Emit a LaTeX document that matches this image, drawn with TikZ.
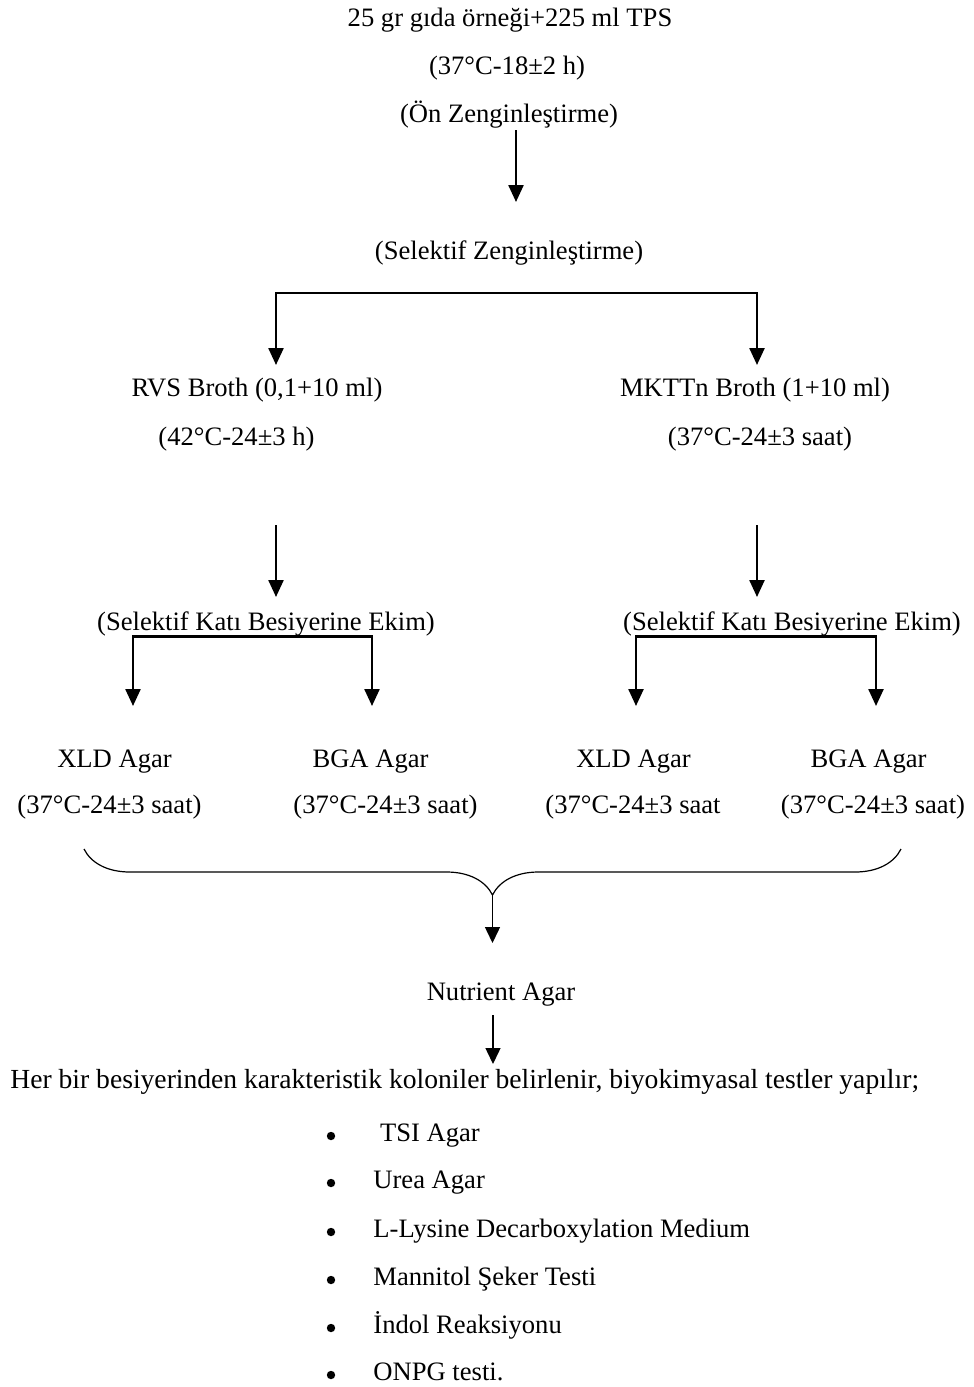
\documentclass[tikz,border=0pt]{standalone}
\usepackage{fontspec}
\setmainfont{Liberation Serif}
\usetikzlibrary{arrows.meta,decorations.pathreplacing}
\tikzset{
    txt/.style={
        anchor=base,
        inner sep=0pt,
        text height=9.5pt,
        text depth=3pt,
        font=\fontsize{13.3}{16}\selectfont
    },
    bullet/.style={
        circle,
        fill,
        inner sep=0pt,
        minimum size=4.2pt
    },
    flow/.style={
        line width=1.2pt,
        -{Triangle[width=7.5pt,length=8.5pt]}
    },
    fork/.style={
        line width=1.2pt,
        {Triangle[width=7.5pt,length=8.5pt]}-{Triangle[width=7.5pt,length=8.5pt]}
    },
    thinflow/.style={
        line width=0.7pt,
        -{Triangle[width=7.5pt,length=8pt]}
    },
    curly/.style={
        line width=0.6pt,
        decorate,
        decoration={brace,mirror,amplitude=23pt}
    }
}

\begin{document}
\begin{tikzpicture}[x=0.5pt,y=-0.5pt]
\useasboundingbox (0,0) rectangle (974,1387);
% pre-enrichment
\node[txt] (tps) at (510,26) {25 gr gıda örneği+225 ml TPS};
\node[txt] (pret) at (507,74) {(37°C-18±2 h)};
\node[txt] (pre) at (509,122) {(Ön Zenginleştirme)};
\node[txt] (sel) at (509,259) {(Selektif Zenginleştirme)};
% broths
\node[txt] (rvs) at (257,396) {RVS Broth (0,1+10 ml)};
\node[txt] (rvst) at (236.5,445) {(42°C-24±3 h)};
\node[txt] (mkttn) at (755,396) {MKTTn Broth (1+10 ml)};
\node[txt] (mkttnt) at (760,445) {(37°C-24±3 saat)};
% plating
\node[txt] (katiL) at (266,630) {(Selektif Katı Besiyerine Ekim)};
\node[txt] (katiR) at (792,630) {(Selektif Katı Besiyerine Ekim)};
\node[txt] (xldL) at (114.5,767) {XLD Agar};
\node[txt] (bgaL) at (370.5,767) {BGA Agar};
\node[txt] (xldR) at (633.5,767) {XLD Agar};
\node[txt] (bgaR) at (868.5,767) {BGA Agar};
\node[txt] (xldLt) at (109.5,813) {(37°C-24±3 saat)};
\node[txt] (bgaLt) at (385.5,813) {(37°C-24±3 saat)};
\node[txt] (xldRt) at (633,813) {(37°C-24±3 saat};
\node[txt] (bgaRt) at (873,813) {(37°C-24±3 saat)};
% confirmation
\node[txt] (nut) at (501,1000) {Nutrient Agar};
\node[txt,anchor=base west,font=\fontsize{13.8}{16}\selectfont] (koloni) at (10,1088) {Her bir besiyerinden karakteristik koloniler belirlenir, biyokimyasal testler yapılır;};
\node[bullet] (b1) at (331,1136) {};
\node[bullet] (b2) at (331,1183) {};
\node[bullet] (b3) at (331,1232) {};
\node[bullet] (b4) at (331,1280) {};
\node[bullet] (b5) at (331,1328) {};
\node[bullet] (b6) at (331,1375) {};
\node[txt,anchor=base west] (tsi) at (373,1141) {\ TSI Agar};
\node[txt,anchor=base west] (urea) at (373,1188) {Urea Agar};
\node[txt,anchor=base west] (lys) at (373,1237) {L-Lysine Decarboxylation Medium};
\node[txt,anchor=base west] (man) at (373,1285) {Mannitol Şeker Testi};
\node[txt,anchor=base west] (ind) at (373,1333) {İndol Reaksiyonu};
\node[txt,anchor=base west] (onpg) at (373,1380) {ONPG testi.};
% arrow ends
\coordinate (selIn) at (516,202);
\coordinate (forkL) at (276,293);
\coordinate (forkR) at (757,293);
\coordinate (rvsIn) at (276,365);
\coordinate (mkttnIn) at (757,365);
\coordinate (rvsOut) at (276,525);
\coordinate (mkttnOut) at (757,525);
\coordinate (katiLIn) at (276,597);
\coordinate (katiRIn) at (757,597);
\coordinate (xldLIn) at (133,706);
\coordinate (bgaLIn) at (372,706);
\coordinate (xldRIn) at (636,706);
\coordinate (bgaRIn) at (876,706);
\coordinate (braceA) at (84,849);
\coordinate (braceB) at (901,849);
\coordinate (braceTip) at (492.5,895);
\coordinate (nutIn) at (492.5,943);
\coordinate (nutOut) at (493,1015);
\coordinate (koloniIn) at (493,1064);
\draw[flow] ([yshift=-1pt]pre.south -| selIn) -- (selIn);
\draw[fork] (rvsIn) -- (forkL) -- (forkR) -- (mkttnIn);
\draw[flow] (rvsOut) -- (katiLIn);
\draw[flow] (mkttnOut) -- (katiRIn);
\draw[fork] (xldLIn) |- (katiL.south) -| (bgaLIn);
\draw[fork] (xldRIn) |- (katiR.south) -| (bgaRIn);
\draw[curly] (braceA) -- (braceB);
\draw[thinflow] (braceTip) -- (nutIn);
\draw[thinflow] (nutOut) -- (koloniIn);
\end{tikzpicture}
\end{document}
